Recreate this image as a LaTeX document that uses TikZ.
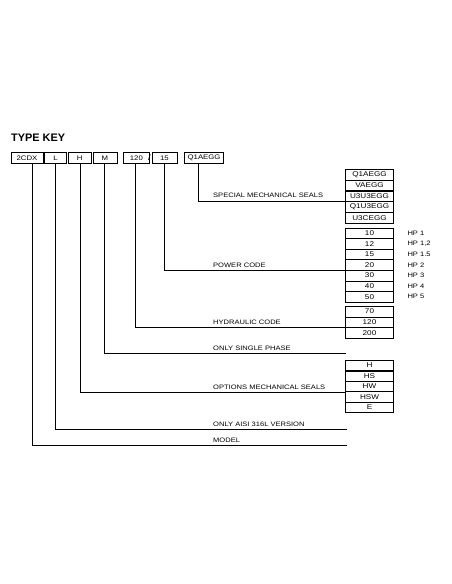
\documentclass[tikz,border=0pt]{standalone}
\usepackage{fontspec}
\setmainfont{Liberation Sans}[FakeStretch=1.18]
\newfontfamily\titlefont{Liberation Sans}
\usetikzlibrary{positioning}

\begin{document}
\begin{tikzpicture}[x=1pt,y=-1pt,
  keybox/.style={draw,line width=0.6pt,minimum height=11pt,inner sep=0pt,font=\fontsize{6.6}{7}\selectfont},
  cell/.style={draw,line width=0.6pt,minimum width=48pt,minimum height=10.6pt,inner sep=0pt,anchor=north,font=\fontsize{6.9}{8}\selectfont},
  lbl/.style={anchor=base west,inner sep=0pt,font=\fontsize{6.4}{7}\selectfont},
  lead/.style={line width=0.7pt}]
  \useasboundingbox (0,0) rectangle (452,584);
  \node[anchor=base west,inner sep=0pt,font=\titlefont\bfseries\fontsize{10.9}{12}\selectfont] (title) at (11,141.8) {TYPE KEY};
  % code boxes
  \node[keybox,minimum width=32pt] (model) at (27,158) {2CDX};
  \node[keybox,minimum width=22pt,right=1pt of model] (steel) {L};
  \node[keybox,minimum width=23pt,right=1pt of steel] (opts) {H};
  \node[keybox,minimum width=24pt,right=1pt of opts] (phase) {M};
  \node[keybox,minimum width=26pt,right=6pt of phase] (hydr) {120};
  \node[inner sep=0pt,font=\fontsize{8}{9}\selectfont] (slash) at (149.5,158) {/};
  \node[keybox,minimum width=25pt] (power) at (164.5,158) {15};
  \node[keybox,minimum width=39pt,right=7pt of power] (seal) {Q1AEGG};
  % tables
  \foreach \t [count=\i] in {Q1AEGG,VAEGG,U3U3EGG,Q1U3EGG,U3CEGG}
    \node[cell] (seal\i) at (369.5,158.2+10.8*\i) {\t};
  \foreach \t [count=\i] in {10,12,15,20,30,40,50}
    \node[cell] (pow\i) at (369.5,216.9+10.6*\i) {\t};
  \foreach \h [count=\i] in {HP 1,{HP 1,2},HP 1.5,HP 2,HP 3,HP 4,HP 5}
    \node[lbl,anchor=west] (hp\i) at ([xshift=13.5pt]pow\i.east) {\h};
  \foreach \t [count=\i] in {70,120,200}
    \node[cell] (hyd\i) at (369.5,295.4+10.6*\i) {\t};
  \foreach \t [count=\i] in {H,HS,HW,HSW,E}
    \node[cell] (opt\i) at (369.5,349.6+10.4*\i) {\t};
  % free ends
  \coordinate (phaseend) at (346,353);
  \coordinate (steelend) at (347,429);
  \coordinate (modelend) at (347,445);
  % leaders
  \draw[lead] ([xshift=-5.5pt]seal.south) |- (seal3.south west);
  \draw[lead] (power.south) |- (pow4.south west);
  \draw[lead] ([xshift=-1pt]hydr.south) |- (hyd2.south west);
  \draw[lead] (phase.south) |- (phaseend);
  \draw[lead] ([xshift=0.5pt]opts.south) |- (opt3.south west);
  \draw[lead] (steel.south) |- (steelend);
  \draw[lead] ([xshift=5pt]model.south) |- (modelend);
  % labels
  \node[lbl] (seallbl) at (213,197.5) {SPECIAL MECHANICAL SEALS};
  \node[lbl] (powlbl) at (213,267.5) {POWER CODE};
  \node[lbl] (hydlbl) at (213,324.5) {HYDRAULIC CODE};
  \node[lbl] (phaselbl) at (213,350.5) {ONLY SINGLE PHASE};
  \node[lbl] (optlbl) at (213,389) {OPTIONS MECHANICAL SEALS};
  \node[lbl] (steellbl) at (213,426) {ONLY AISI 316L VERSION};
  \node[lbl] (modellbl) at (213,442) {MODEL};
\end{tikzpicture}
\end{document}
